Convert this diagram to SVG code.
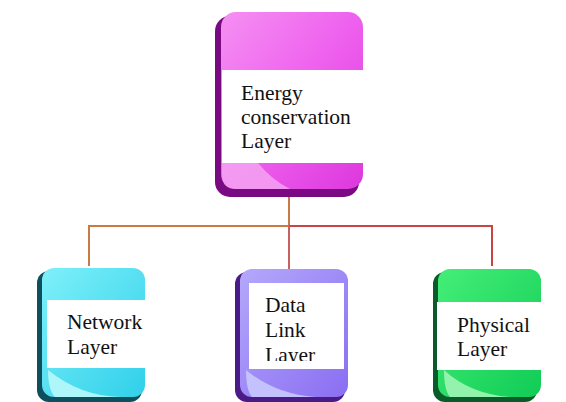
<svg xmlns="http://www.w3.org/2000/svg" width="566" height="402" viewBox="0 0 566 402">
<style>
.lbl{font-family:"Liberation Serif","Times New Roman",serif;font-size:21.5px;fill:#111}
.wb{fill:#fff}
.con{fill:none;stroke-width:2}
</style>
<defs>
<linearGradient id="gM" x1="0" y1="0" x2="1" y2="1"><stop offset="0" stop-color="#f590f2"/><stop offset="0.5" stop-color="#ee60ee"/><stop offset="1" stop-color="#dd38dd"/></linearGradient>
<linearGradient id="gC" x1="0" y1="0" x2="1" y2="1"><stop offset="0" stop-color="#7ef0fa"/><stop offset="1" stop-color="#30d0ea"/></linearGradient>
<linearGradient id="gP" x1="0" y1="0" x2="1" y2="1"><stop offset="0" stop-color="#b4a8fb"/><stop offset="1" stop-color="#8a6ef2"/></linearGradient>
<linearGradient id="gG" x1="0" y1="0" x2="1" y2="1"><stop offset="0" stop-color="#44ee77"/><stop offset="1" stop-color="#10cc55"/></linearGradient>
<clipPath id="clipDL"><rect x="249" y="283" width="95" height="78"/></clipPath>
</defs>
<rect width="566" height="402" fill="#fff"/>
<g id="connectors">
<polyline class="con" stroke="#c97a45" points="289,195 289,226 89,226 89,266"/>
<polyline class="con" stroke="#c94444" points="289,226 492,226 492,266"/>
<line class="con" stroke="#c96060" x1="289" y1="226" x2="289" y2="270"/>
</g>
<g id="energy">
<rect x="215" y="16" width="144" height="181" rx="15" fill="#7a0a82"/>
<rect x="221" y="12" width="142" height="177" rx="15" fill="url(#gM)"/>
<path d="M222 163 L258 163 Q272 180 290 189 L236 189 Q222 189 222 175 Z" fill="#f5a8f2" opacity="0.8"/>
<rect class="wb" x="222" y="70" width="141" height="93"/>
<text class="lbl" x="241" y="100">Energy</text>
<text class="lbl" x="241" y="124">conservation</text>
<text class="lbl" x="241" y="148">Layer</text>
</g>
<g id="network">
<rect x="37" y="271" width="105" height="131" rx="12" fill="#0d4f5c"/>
<rect x="42" y="268" width="103" height="129" rx="12" fill="url(#gC)"/>
<path d="M48 370 Q80 396 120 397 L55 397 Q48 390 48 370 Z" fill="#b8f8fb" opacity="0.9"/>
<rect class="wb" x="47" y="300" width="98" height="68"/>
<text class="lbl" x="67" y="329">Network</text>
<text class="lbl" x="67" y="354">Layer</text>
</g>
<g id="datalink">
<rect x="235" y="272" width="110" height="130" rx="12" fill="#4a1a86"/>
<rect x="240" y="269" width="108" height="128" rx="12" fill="url(#gP)"/>
<path d="M246 370 Q275 394 315 397 L252 397 Q246 390 246 370 Z" fill="#c8c8ff" opacity="0.9"/>
<rect class="wb" x="249" y="283" width="95" height="86"/>
<g clip-path="url(#clipDL)">
<text class="lbl" x="265" y="312">Data</text>
<text class="lbl" x="265" y="337">Link</text>
<text class="lbl" x="265" y="362">Layer</text>
</g>
</g>
<g id="physical">
<rect x="433" y="272" width="104" height="130" rx="12" fill="#0a5a2a"/>
<rect x="438" y="269" width="103" height="128" rx="12" fill="url(#gG)"/>
<path d="M444 370 Q470 394 510 397 L450 397 Q444 390 444 370 Z" fill="#9ef5b5" opacity="0.9"/>
<rect class="wb" x="437" y="302" width="104" height="68"/>
<text class="lbl" x="457" y="332">Physical</text>
<text class="lbl" x="457" y="356">Layer</text>
</g>
</svg>
